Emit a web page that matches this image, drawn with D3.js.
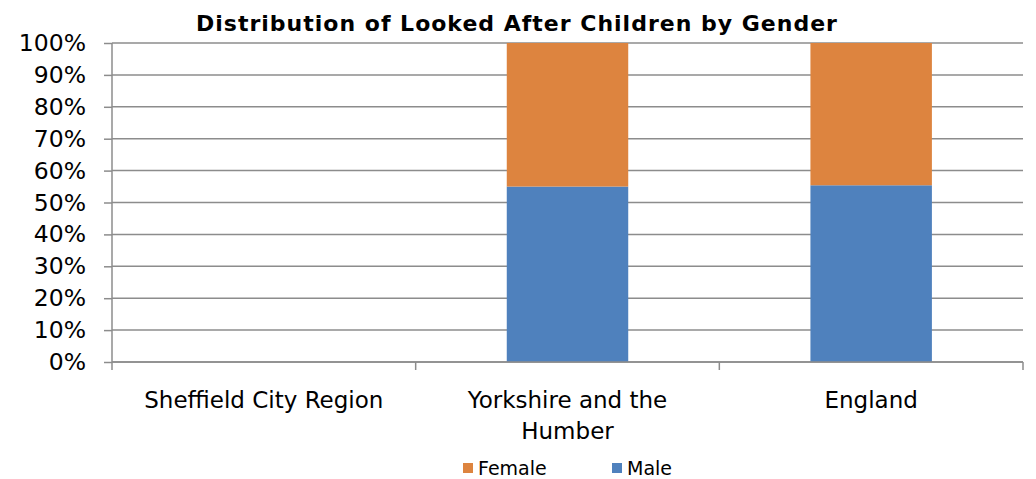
<!DOCTYPE html>
<html>
<head>
<meta charset="utf-8">
<script src="https://cdn.jsdelivr.net/npm/d3@7"></script>
<style>
  body { margin: 0; background: #fff; }
  svg { display: block; font-family: "DejaVu Sans", Verdana, sans-serif; }
</style>
</head>
<body>
<div id="chart-area"></div>
<script>
// Data
const categories = ["Sheffield City Region", "Yorkshire and the Humber", "England"];
const maleShare = [null, 0.550, 0.554];
const femaleShare = [null, 0.450, 0.446];
const yTicks = [0, 0.1, 0.2, 0.3, 0.4, 0.5, 0.6, 0.7, 0.8, 0.9, 1];
const seriesNames = ["Female", "Male"];
const seriesColors = {Male: "#4f81bd", Female: "#dd843f"};

const margin = {left: 112, right: 13, top: 43, bottom: 117},
  width = 1036 - margin.left - margin.right,
  height = 479 - margin.top - margin.bottom;

const svg = d3.select("#chart-area").append("svg")
  .attr("width", 1036)
  .attr("height", 479);

const g = svg.append("g")
  .attr("transform", "translate(" + margin.left + "," + margin.top + ")");

// Scales
const x = d3.scaleBand().domain(categories).range([0, width])
  .paddingInner(0.6).paddingOuter(0.3);
const y = d3.scaleLinear().domain([0, 1]).range([height, 0]);
const step = x.step();

// Stacked table built from the arrays
const rows = categories.map((c, i) => ({cat: c, Male: maleShare[i], Female: femaleShare[i]}));
const stacked = d3.stack().keys(["Male", "Female"])
  .value((d, k) => d[k] == null ? 0 : d[k])(rows);

// Gridlines
g.append("g")
  .selectAll("line")
  .data(yTicks)
  .join("line")
  .attr("x1", 0)
  .attr("x2", width)
  .attr("y1", d => y(d))
  .attr("y2", d => y(d))
  .attr("stroke", "#8c8c8c")
  .attr("stroke-width", 1.5);

// Bars
g.append("g")
  .selectAll("g")
  .data(stacked)
  .join("g")
  .attr("fill", d => seriesColors[d.key])
  .selectAll("rect")
  .data(d => d.filter(p => p.data[d.key] != null))
  .join("rect")
  .attr("x", d => x(d.data.cat))
  .attr("width", x.bandwidth())
  .attr("y", d => y(d[1]))
  .attr("height", d => y(d[0]) - y(d[1]));

// Y axis
const yAxis = g.append("g")
  .call(d3.axisLeft(y).tickValues(yTicks).tickSize(8).tickPadding(18)
    .tickFormat(d3.format(".0%")));
yAxis.select(".domain").attr("stroke", "#8c8c8c").attr("stroke-width", 1.5)
  .attr("d", "M0," + y(1) + "V" + y(0));
yAxis.selectAll(".tick line").attr("stroke", "#8c8c8c").attr("stroke-width", 1.5);
yAxis.selectAll("text")
  .attr("font-size", 23.5)
  .attr("fill", "#000")
  .attr("font-family", "DejaVu Sans");

// X axis: line with ticks on the category boundaries
const xAxis = g.append("g")
  .attr("transform", "translate(0," + height + ")");
xAxis.append("line")
  .attr("x1", 0).attr("x2", width)
  .attr("stroke", "#8c8c8c").attr("stroke-width", 1.5);
xAxis.selectAll(".bound")
  .data(d3.range(categories.length + 1))
  .join("line")
  .attr("class", "bound")
  .attr("x1", i => i * step).attr("x2", i => i * step)
  .attr("y1", 0).attr("y2", 8)
  .attr("stroke", "#8c8c8c").attr("stroke-width", 1.5);

xAxis.selectAll(".xlabel")
  .data(categories)
  .join("text")
  .attr("class", "xlabel")
  .attr("x", d => x(d) + x.bandwidth() / 2)
  .attr("y", 46)
  .attr("text-anchor", "middle")
  .attr("font-size", 23)
  .attr("fill", "#000")
  .text(d => d)
  .call(wrap, 260);

function wrap(texts, maxWidth) {
  texts.each(function () {
    const text = d3.select(this),
      words = text.text().split(/\s+/),
      cx = text.attr("x");
    text.text(null);
    let line = [],
      tspan = text.append("tspan").attr("x", cx).attr("dy", 0);
    words.forEach(w => {
      line.push(w);
      tspan.text(line.join(" "));
      if (tspan.node().getComputedTextLength() > maxWidth && line.length > 1) {
        line.pop();
        tspan.text(line.join(" "));
        line = [w];
        tspan = text.append("tspan").attr("x", cx).attr("dy", "1.35em").text(w);
      }
    });
  });
}

// Title
svg.append("text")
  .attr("x", 517)
  .attr("y", 31)
  .attr("text-anchor", "middle")
  .attr("font-size", 22)
  .attr("font-weight", "bold")
  .attr("letter-spacing", 1)
  .attr("fill", "#000")
  .text("Distribution of Looked After Children by Gender");

// Legend
const legendX = [463, 612];
const legend = svg.append("g")
  .selectAll("g")
  .data(seriesNames)
  .join("g")
  .attr("transform", (d, i) => "translate(" + legendX[i] + ",463)");
legend.append("rect")
  .attr("width", 10)
  .attr("height", 10)
  .attr("fill", d => seriesColors[d]);
legend.append("text")
  .attr("x", 15)
  .attr("y", 12)
  .attr("font-size", 19)
  .attr("fill", "#000")
  .text(d => d);
</script>
</body>
</html>
